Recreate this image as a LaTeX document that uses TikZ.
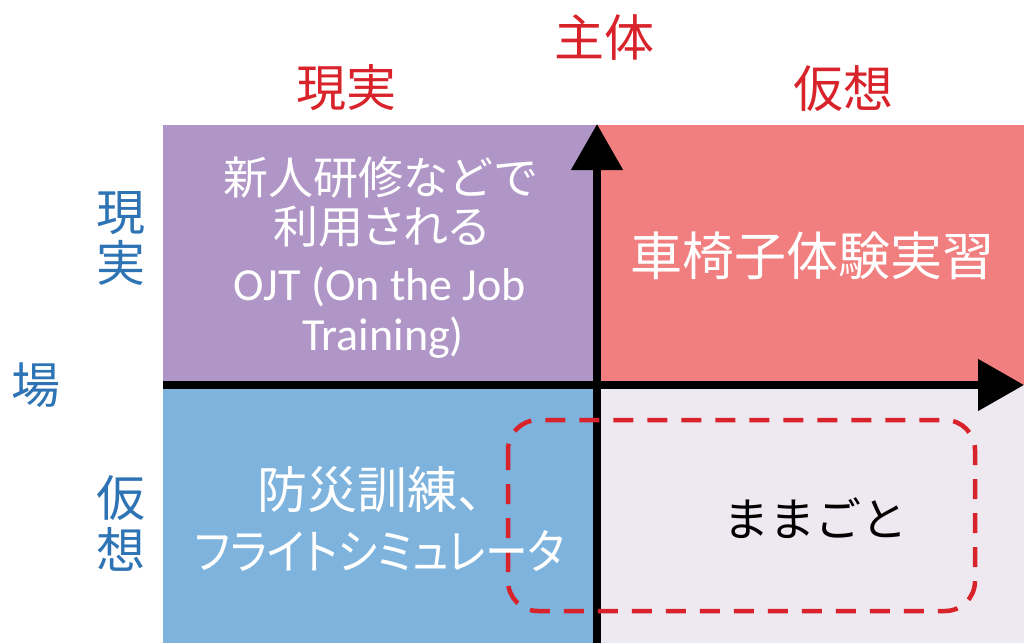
\documentclass[tikz,border=0pt]{standalone}
\usepackage{fontspec}
\setmainfont{Noto Sans CJK JP}
\newfontfamily\latinf{Carlito}
\newfontfamily\paltf[RawFeature=+palt]{Noto Sans CJK JP}
\usetikzlibrary{arrows.meta}
\definecolor{qpurple}{HTML}{B096C7}
\definecolor{qsalmon}{HTML}{F27F7F}
\definecolor{qblue}{HTML}{7DB3DC}
\definecolor{qlight}{HTML}{EEE8F1}
\definecolor{tred}{HTML}{D9232B}
\definecolor{tblue}{HTML}{2E74B5}
\definecolor{dred}{HTML}{D9232B}
\tikzset{
  axis/.style={line width=8pt,-{Triangle[width=50pt,length=46pt]}},
  redlbl/.style={text=tred,font=\fontsize{50}{50}\selectfont,inner sep=0pt},
  bluelbl/.style={text=tblue,font=\fontsize{49}{50}\selectfont,inner sep=0pt},
  whitetxt/.style={text=white,font=\fontsize{45}{50}\selectfont,inner sep=0pt},
  latintxt/.style={text=white,font=\latinf\fontsize{46}{50}\selectfont,inner sep=0pt,anchor=base},
}
\begin{document}
\begin{tikzpicture}[x=1pt,y=-1pt]
\useasboundingbox (0,0) rectangle (1024,643);
\fill[qpurple] (163,125) rectangle (597,385);
\fill[qsalmon] (597,125) rectangle (1024,385);
\fill[qblue] (163,385) rectangle (597,643);
\fill[qlight] (597,385) rectangle (1024,643);
\coordinate (vbot) at (597,643);
\coordinate (vtop) at (597,124);
\coordinate (hleft) at (163,385);
\coordinate (hright) at (1024,385);
\draw[axis] (vbot) -- (vtop);
\draw[axis] (hleft) -- (hright);
\draw[dred,line width=4.5pt,dash pattern=on 20pt off 14pt,rounded corners=30pt] (508,420) rectangle (975,611);
\node[redlbl] (shutai) at (604,38) {主体};
\node[redlbl] (sgen) at (346,88) {現実};
\node[redlbl] (skaso) at (843,89) {仮想};
\node[bluelbl] (bgen1) at (121,213) {現};
\node[bluelbl] (bgen2) at (121,263) {実};
\node[bluelbl] (ba) at (36,385) {場};
\node[bluelbl] (bkaso1) at (121,498) {仮};
\node[bluelbl] (bkaso2) at (121,549) {想};
\node[whitetxt] (ojt1) at (381,177) {新人研修などで};
\node[whitetxt,font=\paltf\fontsize{45}{50}\selectfont] (ojt2) at (381,227) {利用される};
\node[latintxt] (ojt3) at (380,300) {OJT (On the Job};
\node[latintxt] (ojt4) at (383,350) {Training)};
\node[whitetxt,font=\fontsize{52}{50}\selectfont] (kuru) at (812,256) {車椅子体験実習};
\node[whitetxt,font=\fontsize{50}{50}\selectfont] (bosai1) at (382,490) {防災訓練、};
\node[whitetxt,font=\paltf\fontsize{48}{50}\selectfont,xscale=0.89,transform shape] (bosai2) at (380,551) {フライトシミュレータ};
\node[inner sep=0pt,font=\fontsize{46}{50}\selectfont] (mama) at (815,518) {ままごと};
\end{tikzpicture}
\end{document}
